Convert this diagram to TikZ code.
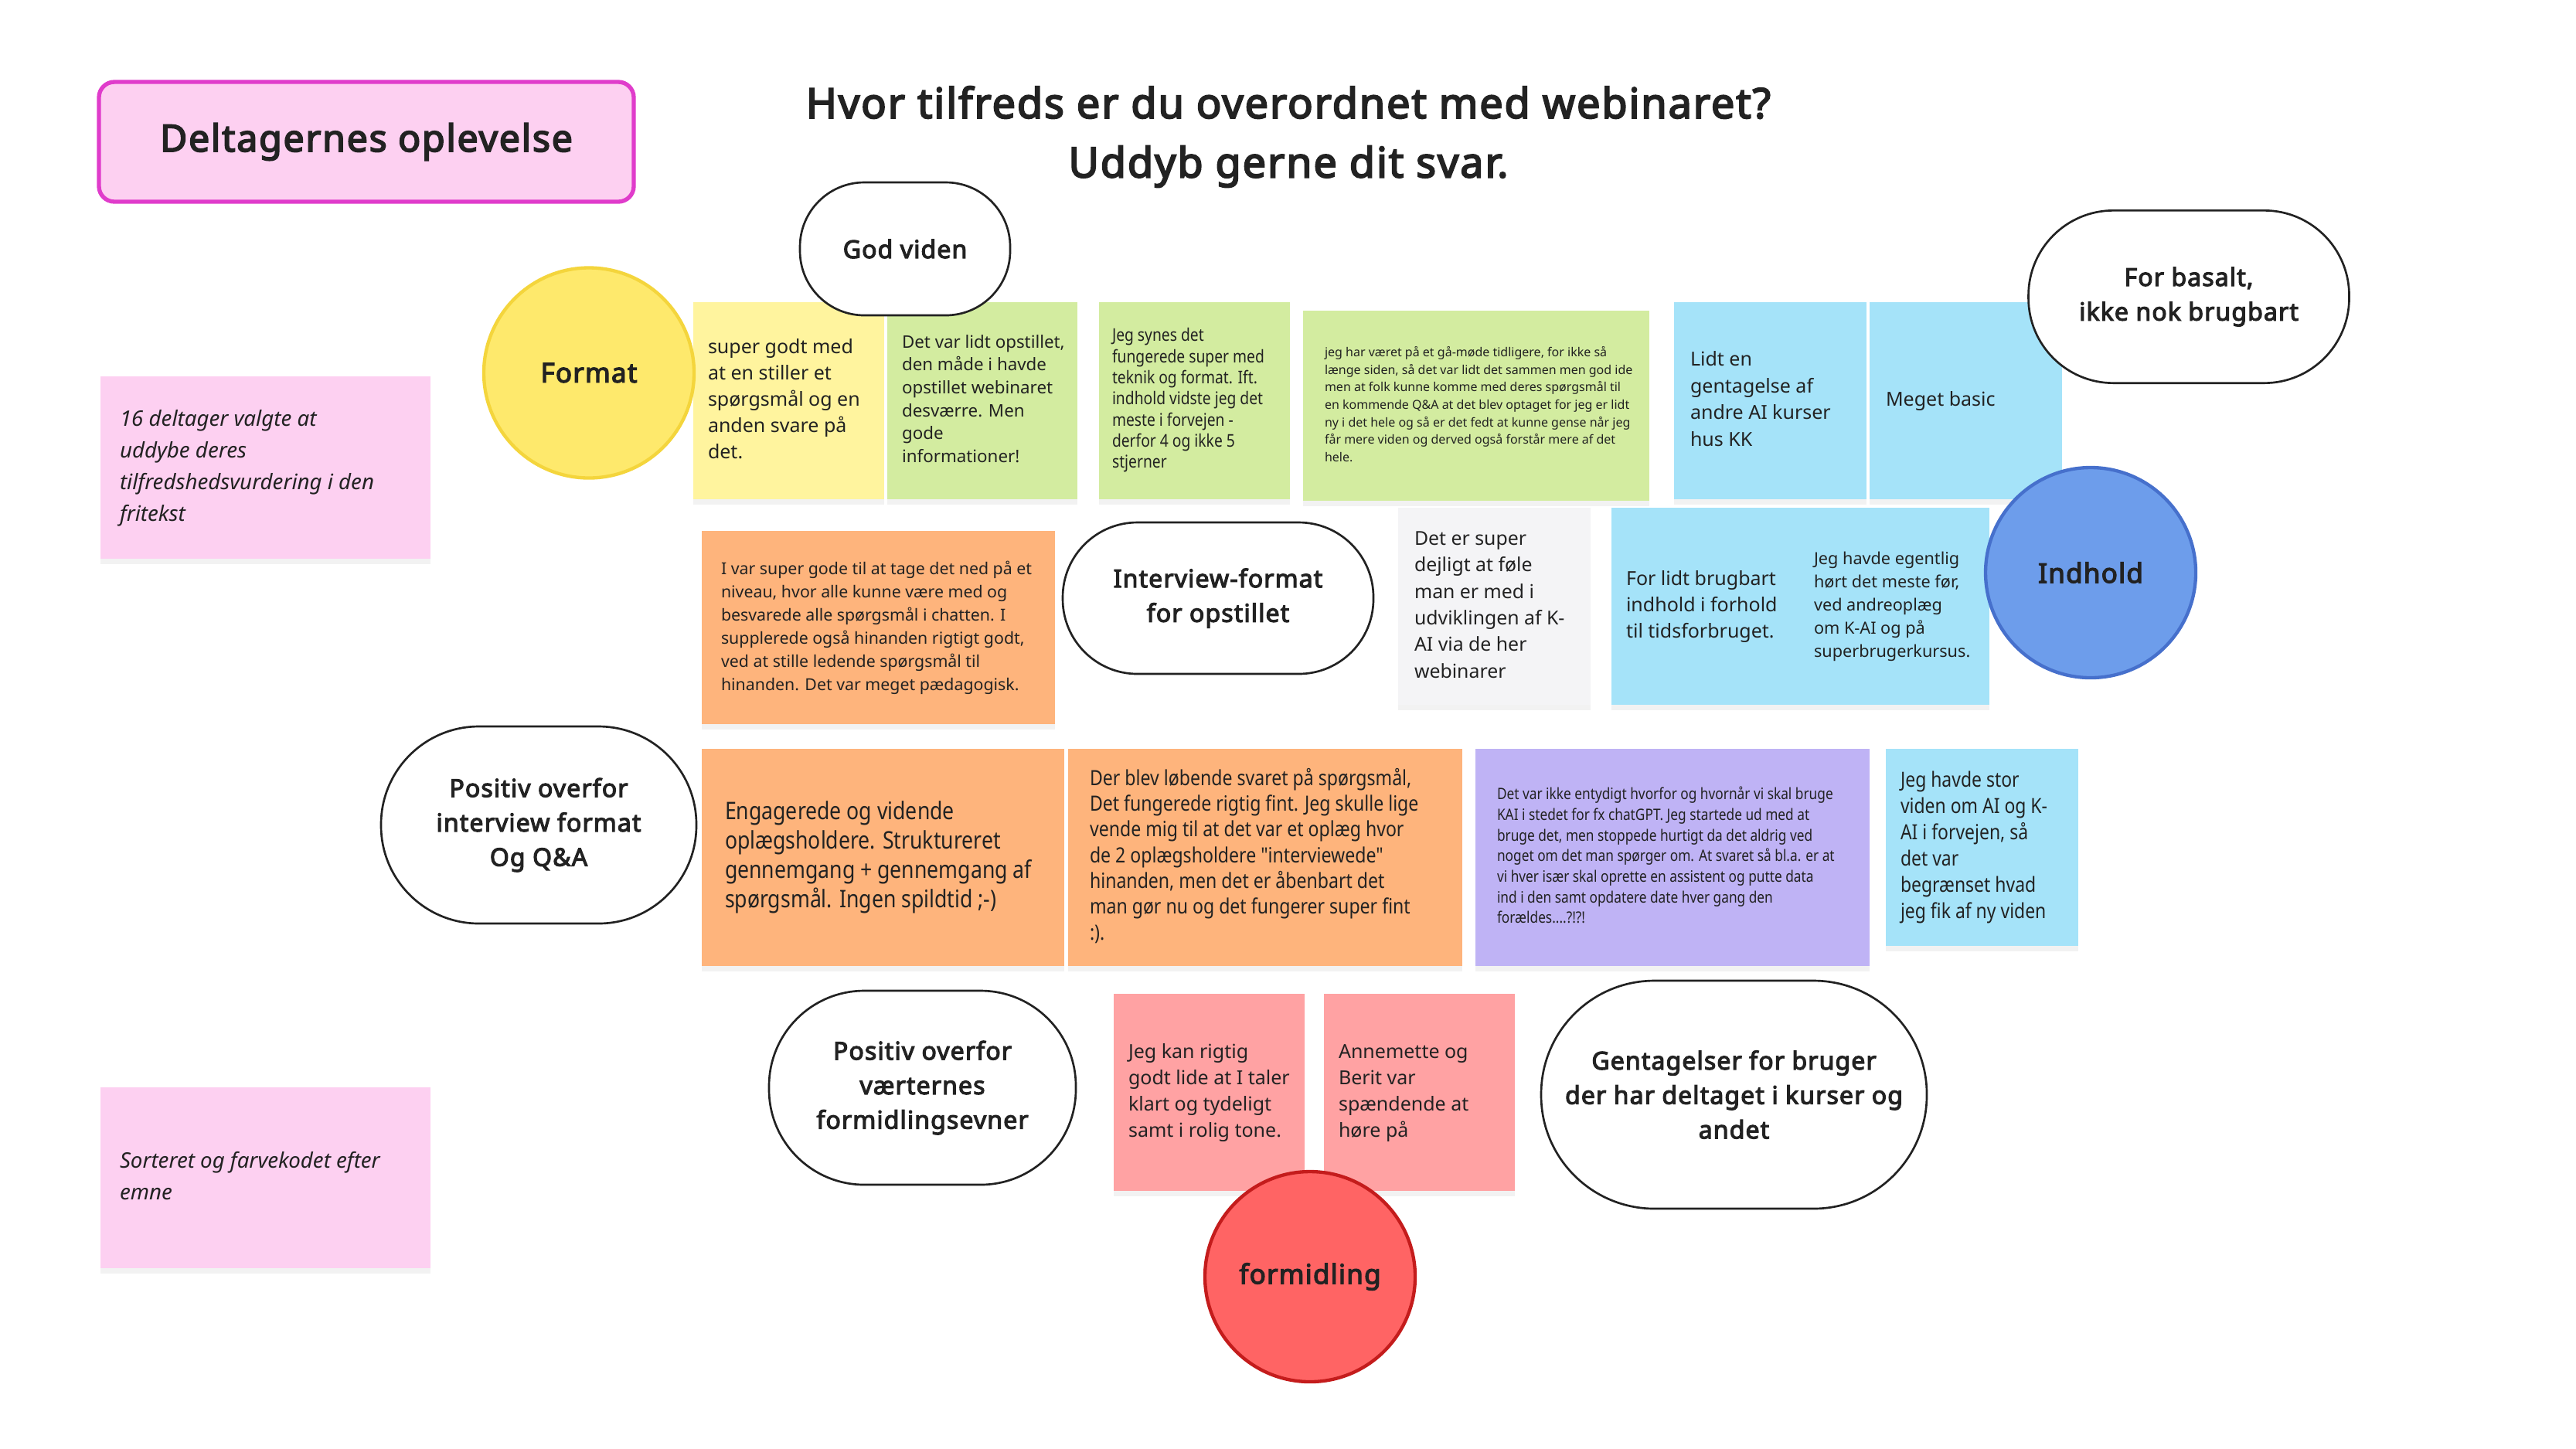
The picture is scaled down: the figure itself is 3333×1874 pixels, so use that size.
\documentclass[tikz,border=0pt]{standalone}
\usepackage{fontspec}
\setmainfont{Noto Sans}
\newfontfamily\condfont{Noto Sans}[FakeStretch=0.85]
\newfontfamily\heavy{Noto Sans}[FakeBold=3.6, LetterSpace=3.5]
\usetikzlibrary{shadows}
\definecolor{ink}{HTML}{222222}
\definecolor{styellow}{HTML}{FFF49E}
\definecolor{stgreen}{HTML}{D3ECA0}
\definecolor{stblue}{HTML}{A5E3F9}
\definecolor{storange}{HTML}{FEB47C}
\definecolor{stpurple}{HTML}{BFB3F5}
\definecolor{stred}{HTML}{FFA2A3}
\definecolor{stgray}{HTML}{F4F4F6}
\definecolor{stpink}{HTML}{FDD0F1}
\definecolor{magborder}{HTML}{E03CCB}
\definecolor{fmtfill}{HTML}{FEE96C}
\definecolor{fmtline}{HTML}{F4D53C}
\definecolor{indfill}{HTML}{6D9DEB}
\definecolor{indline}{HTML}{4670CC}
\definecolor{formfill}{HTML}{FF6464}
\definecolor{formline}{HTML}{C41C1C}
\newcommand\fs[2]{\fontsize{#1}{#2}\selectfont}
% #1 name, #2 x1, #3 y1, #4 x2, #5 y2, #6 fill, #7 left pad (px), #8 font, #9 lines
\newcommand\stick[9]{%
  \pgfmathsetmacro\stx{(#2+#4)/2}%
  \pgfmathsetmacro\sty{(#3+#5)/2}%
  \pgfmathsetmacro\stw{(#4-#2)*0.3}%
  \pgfmathsetmacro\sth{(#5-#3)*0.3}%
  \pgfmathsetmacro\stpad{#7*0.3}%
  \node[note, fill=#6, minimum width=\stw pt, minimum height=\sth pt] (#1) at (\stx,\sty)
    {\makebox[\stw pt][l]{\hspace*{\stpad pt}#8\begin{tabular}{@{}l@{}}#9\end{tabular}}};%
}
\tikzset{
  note/.style={rectangle, inner sep=0pt, text=ink,
    drop shadow={opacity=0.10, shadow xshift=0pt, shadow yshift=-2pt}},
  pill/.style={rectangle, draw=ink, line width=0.8pt, fill=white, text=ink,
    align=center, inner sep=0pt, font=\heavy\fs{9.6}{13.4}},
  topic/.style={circle, inner sep=0pt, minimum size=81.6pt, line width=1.3pt,
    text=ink, font=\heavy\fs{10.5}{13}},
}
\begin{document}
\begin{tikzpicture}[x=0.3pt,y=-0.3pt]
\fill[white] (0,0) rectangle (3333,1874);
\useasboundingbox (0,0) rectangle (3333,1874);

% header
\node[rectangle, rounded corners=6pt, fill=stpink, draw=magborder, line width=1.6pt,
  minimum width=207.6pt, minimum height=46.5pt, text=ink, font=\heavy\fs{14.5}{17}]
  (head) at (474,183.5) {\raisebox{-1.8pt}{Deltagernes oplevelse}};
\node[align=center, text=ink, font=\heavy\fs{16.2}{23}] (title) at (1667,177)
  {Hvor tilfreds er du overordnet med webinaret?\\Uddyb gerne dit svar.};

% side notes
\stick{n1}{130}{487}{557}{723}{stpink}{25}{\itshape\fs{8.3}{12.3}}
  {16 deltager valgte at\\uddybe deres\\tilfredshedsvurdering i den\\fritekst}
\stick{n2}{130}{1407}{557}{1641}{stpink}{25}{\itshape\fs{8.3}{12.3}}
  {Sorteret og farvekodet efter\\emne}

% row 1
\stick{s1}{897}{391}{1144}{646}{styellow}{19}{\fs{7.5}{10.2}}
  {super godt med\\at en stiller et\\spørgsmål og en\\anden svare på\\det.}
\stick{s2}{1148}{391}{1394}{646}{stgreen}{19}{\fs{6.7}{8.9}}
  {Det var lidt opstillet,\\den måde i havde\\opstillet webinaret\\desværre. Men\\gode\\informationer!}
\stick{s3}{1422}{391}{1669}{646}{stgreen}{17}{\condfont\fs{6.8}{8.2}}
  {Jeg synes det\\fungerede super med\\teknik og format. Ift.\\indhold vidste jeg det\\meste i forvejen -\\derfor 4 og ikke 5\\stjerner}
\stick{s4}{1686}{402}{2134}{648}{stgreen}{28}{\fs{4.8}{6.8}}
  {jeg har været på et gå-møde tidligere, for ikke så\\længe siden, så det var lidt det sammen men god ide\\men at folk kunne komme med deres spørgsmål til\\en kommende Q\&A at det blev optaget for jeg er lidt\\ny i det hele og så er det fedt at kunne gense når jeg\\får mere viden og derved også forstår mere af det\\hele.}
\stick{s5}{2166}{391}{2415}{646}{stblue}{21}{\fs{7.5}{10.4}}
  {Lidt en\\gentagelse af\\andre AI kurser\\hus KK}
\stick{s6}{2419}{391}{2668}{646}{stblue}{21}{\fs{7.5}{10.4}}
  {Meget basic}

% row 2
\stick{s7}{908}{687}{1365}{937}{storange}{25}{\fs{6.4}{9}}
  {I var super gode til at tage det ned på et\\niveau, hvor alle kunne være med og\\besvarede alle spørgsmål i chatten. I\\supplerede også hinanden rigtigt godt,\\ved at stille ledende spørgsmål til\\hinanden. Det var meget pædagogisk.}
\stick{s8}{1809}{657}{2058}{912}{stgray}{21}{\fs{7.45}{10.3}}
  {Det er super\\dejligt at føle\\man er med i\\udviklingen af K-\\AI via de her\\webinarer}
\stick{s9}{2085}{657}{2328}{912}{stblue}{19}{\fs{7.5}{10.2}}
  {For lidt brugbart\\indhold i forhold\\til tidsforbruget.}
\stick{s10}{2328}{657}{2574}{912}{stblue}{19}{\fs{6.5}{9}}
  {Jeg havde egentlig\\hørt det meste før,\\ved andreoplæg\\om K-AI og på\\superbrugerkursus.}

% row 3
\stick{s11}{908}{969}{1377}{1250}{storange}{30}{\condfont\fs{9.4}{11.4}}
  {Engagerede og vidende\\oplægsholdere. Struktureret\\gennemgang + gennemgang af\\spørgsmål. Ingen spildtid ;-)}
\stick{s12}{1382}{969}{1892}{1250}{storange}{28}{\condfont\fs{8.15}{10}}
  {Der blev løbende svaret på spørgsmål,\\Det fungerede rigtig fint. Jeg skulle lige\\vende mig til at det var et oplæg hvor\\de 2 oplægsholdere "interviewede"\\hinanden, men det er åbenbart det\\man gør nu og det fungerer super fint\\:).}
\stick{s13}{1909}{969}{2419}{1250}{stpurple}{28}{\condfont\fs{6.1}{8}}
  {Det var ikke entydigt hvorfor og hvornår vi skal bruge\\KAI i stedet for fx chatGPT. Jeg startede ud med at\\bruge det, men stoppede hurtigt da det aldrig ved\\noget om det man spørger om. At svaret så bl.a. er at\\vi hver især skal oprette en assistent og putte data\\ind i den samt opdatere date hver gang den\\forældes....?!?!}
\stick{s14}{2440}{969}{2689}{1224}{stblue}{19}{\condfont\fs{8.1}{10.2}}
  {Jeg havde stor\\viden om AI og K-\\AI i forvejen, så\\det var\\begrænset hvad\\jeg fik af ny viden}

% row 4
\stick{s15}{1441}{1286}{1688}{1541}{stred}{19}{\fs{7.5}{10.2}}
  {Jeg kan rigtig\\godt lide at I taler\\klart og tydeligt\\samt i rolig tone.}
\stick{s16}{1713}{1286}{1960}{1541}{stred}{19}{\fs{7.5}{10.2}}
  {Annemette og\\Berit var\\spændende at\\høre på}

% pills
\node[pill, minimum width=81.6pt, minimum height=51.6pt, rounded corners=25pt] (p1) at (1171,322) {God viden};
\node[pill, minimum width=124.5pt, minimum height=67pt, rounded corners=33pt] (p2) at (2832,384) {For basalt,\\ikke nok brugbart};
\node[pill, minimum width=120.6pt, minimum height=58.8pt, rounded corners=29pt] (p3) at (1576,774) {Interview-format\\for opstillet};
\node[pill, minimum width=122.4pt, minimum height=76.5pt, rounded corners=38pt] (p4) at (697,1067.5) {Positiv overfor\\interview format\\Og Q\&A};
\node[pill, minimum width=119.1pt, minimum height=75.3pt, rounded corners=37pt] (p5) at (1193.5,1407.5) {Positiv overfor\\værternes\\formidlingsevner};
\node[pill, minimum width=149.7pt, minimum height=88.5pt, rounded corners=44pt] (p6) at (2243.5,1416.5) {Gentagelser for bruger\\der har deltaget i kurser og\\andet};

% topic circles
\node[topic, fill=fmtfill, draw=fmtline] (c1) at (762,482.5) {Format};
\node[topic, fill=indfill, draw=indline] (c2) at (2705,741) {Indhold};
\node[topic, fill=formfill, draw=formline] (c3) at (1695,1652) {formidling};
\end{tikzpicture}
\end{document}
